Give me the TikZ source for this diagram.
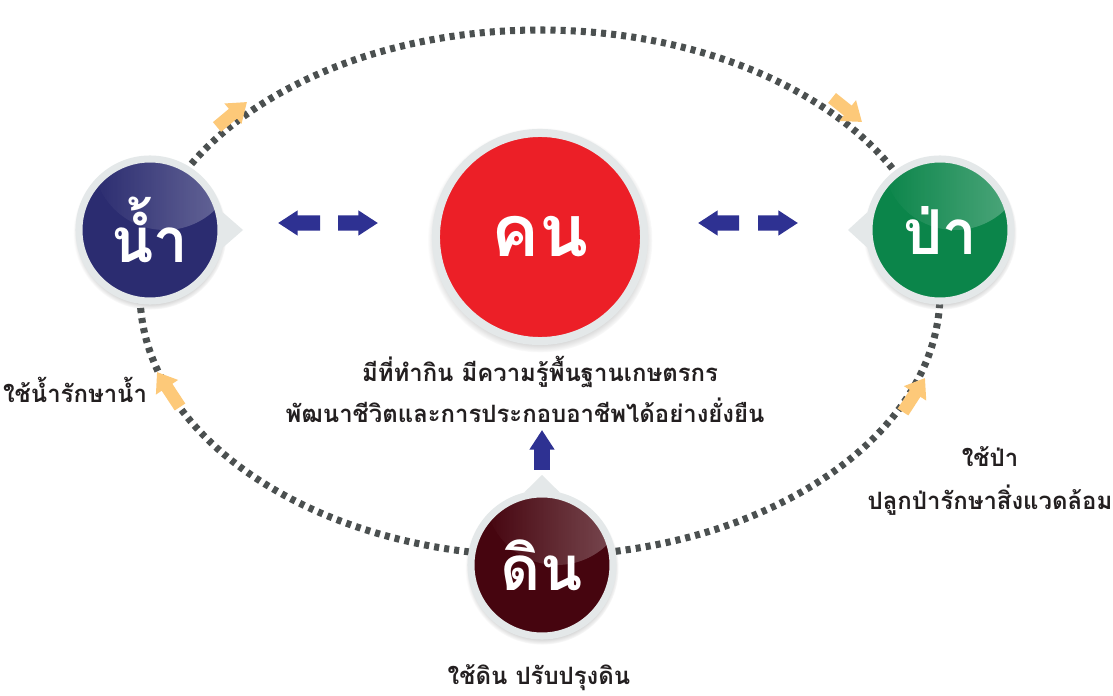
\documentclass[tikz,border=0pt]{standalone}
\usepackage{fontspec}
\newfontfamily\thaifont[Script=Thai]{Loma}
\usetikzlibrary{arrows.meta,calc,shadows,fadings}

\definecolor{ringgray}{HTML}{E4E8E9}
\definecolor{dotgray}{HTML}{4B5050}
\definecolor{arrowblue}{HTML}{2E3192}
\definecolor{flowyellow}{HTML}{FDC979}
\definecolor{waterblue}{HTML}{2B2C70}
\definecolor{manred}{HTML}{EC1F27}
\definecolor{forestgreen}{HTML}{0B854A}
\definecolor{soilbrown}{HTML}{46050F}
\definecolor{textblack}{HTML}{231F20}

\tikzset{
  bubble/.style={circle, draw=ringgray, line width=5pt, minimum size=101pt, inner sep=0pt,
    circular drop shadow={shadow scale=1.08, shadow xshift=0pt, shadow yshift=-2pt, opacity=.6},
    text=white, font=\thaifont\bfseries\fontsize{44}{44}\selectfont},
  caption/.style={text=textblack, font=\thaifont\bfseries\fontsize{17}{30}\selectfont,
    align=center, inner sep=0pt},
  bluearrow/.style={arrowblue, line width=10.7pt, -{Triangle[width=17pt,length=14pt]}},
  flowarrow/.style={flowyellow, line width=9pt, -{Triangle[width=18pt,length=13pt]}},
}

\begin{document}
\begin{tikzpicture}[x=0.025cm, y=-0.025cm]
    \useasboundingbox[fill=white] (0,0) rectangle (1113,696);

    % Dotted ring
    \draw[dotgray, line width=5pt, dash pattern=on 3.6pt off 3.6pt] (540,293) ellipse [x radius=400, y radius=263];

    % Flow arrows on the ring
    \draw[flowarrow] (217,127) -- (247,102);
    \draw[flowarrow] (832,98) -- (862,122);
    \draw[flowarrow] (903,412) -- (925,378);
    \draw[flowarrow] (180,407) -- (157,372);

    % Circles
    \node[bubble, fill=waterblue] (water) at (150,230) {น้ำ};
    \node[bubble, fill=manred, minimum size=148pt, line width=5.7pt, font=\thaifont\bfseries\fontsize{51}{51}\selectfont] (man) at (540,237) {คน};
    \node[bubble, fill=forestgreen] (forest) at (940,230) {ป่า};
    \node[bubble, fill=soilbrown] (soil) at (542,565) {ดิน};

    % Pointers
    \fill[ringgray] (water.14) -- ($(water.center)+(93,0)$) -- (water.-14) -- cycle;
    \fill[ringgray] (forest.166) -- ($(forest.center)+(-92,0)$) -- (forest.194) -- cycle;
    \fill[ringgray] (soil.76) -- ($(soil.center)+(0,-90)$) -- (soil.104) -- cycle;

    % Gloss
    \begin{scope}
        \clip (water.center) circle[radius=67.5];
        \fill[white, fill opacity=.3, path fading=west] ($(water.center)+(15,-72)$) circle[radius=72];
    \end{scope}
    \begin{scope}
        \clip (forest.center) circle[radius=67.5];
        \fill[white, fill opacity=.3, path fading=west] ($(forest.center)+(15,-72)$) circle[radius=72];
    \end{scope}
    \begin{scope}
        \clip (soil.center) circle[radius=67.5];
        \fill[white, fill opacity=.3, path fading=west] ($(soil.center)+(15,-72)$) circle[radius=72];
    \end{scope}

    % Blue arrows
    \coordinate (wmL) at (278,223);
    \coordinate (wmR) at (378,223);
    \coordinate (mfL) at (698,223);
    \coordinate (mfR) at (798,223);
    \coordinate (upTip) at (542,430);
    \draw[bluearrow] ($(wmL)!0.42!(wmR)$) -- (wmL);
    \draw[bluearrow] ($(wmL)!0.6!(wmR)$) -- (wmR);
    \draw[bluearrow] ($(mfL)!0.41!(mfR)$) -- (mfL);
    \draw[bluearrow] ($(mfL)!0.6!(mfR)$) -- (mfR);
    \draw[bluearrow, shorten <=67.6pt] (soil.center) -- (upTip);

    % Captions
    \node[caption] (manLine1) at (540,372) {มีที่ทำกิน มีความรู้พื้นฐานเกษตรกร};
    \node[caption] (manLine2) at (525,410) {พัฒนาชีวิตและการประกอบอาชีพได้อย่างยั่งยืน};
    \node[caption] (waterText) at (75,390) {ใช้น้ำรักษาน้ำ};
    \node[caption] (forestText) at (990,481) {ใช้ป่า\\ปลูกป่ารักษาสิ่งแวดล้อม};
    \node[caption] (soilText) at (539,678) {ใช้ดิน ปรับปรุงดิน};

\end{tikzpicture}
\end{document}
